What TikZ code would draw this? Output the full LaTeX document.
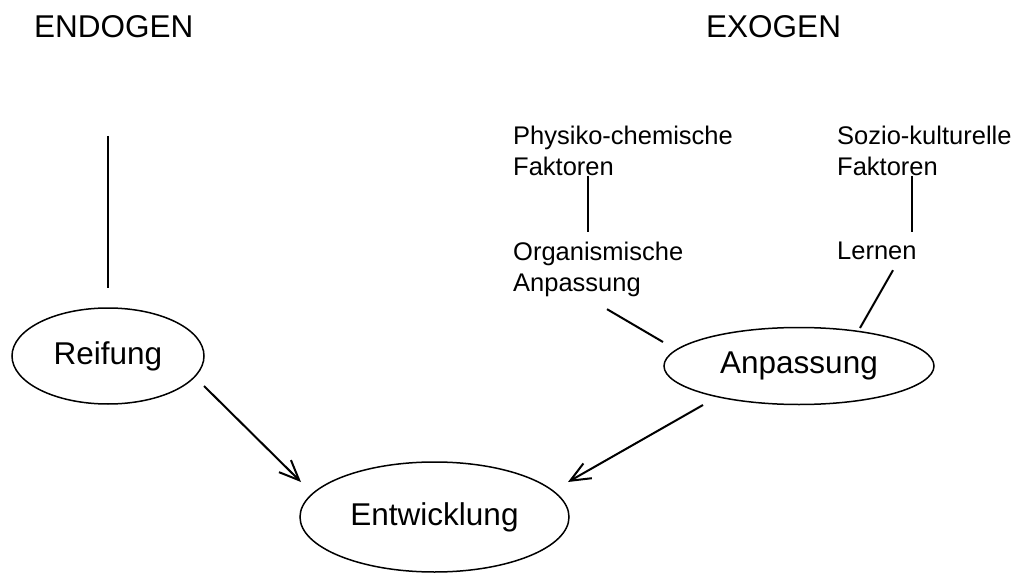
\documentclass[tikz,border=0pt]{standalone}
\usepackage{fontspec}
\setmainfont{Liberation Sans}
\usetikzlibrary{shapes.geometric,arrows.meta}

\def\grossfont{\fontsize{31.5}{36}\selectfont}
\def\kleinfont{\fontsize{25.5}{31}\selectfont}

\begin{document}
\begin{tikzpicture}[x=1pt,y=-1pt,
  ellsty/.style={draw,ellipse,line width=1.5pt,inner sep=0pt,font=\grossfont},
  titelsty/.style={anchor=base west,inner sep=0pt,font=\grossfont},
  labelsty/.style={anchor=north west,inner sep=0pt,align=left,font=\kleinfont},
  linie/.style={line width=2pt},
  pfeil/.style={line width=2pt,-{Straight Barb[length=20pt,width=17pt,line width=2pt]}}]
  \useasboundingbox (0,0) rectangle (1026,575);

  \node[titelsty] (endo) at (34,38) {ENDOGEN};
  \node[titelsty] (exo) at (706,38) {EXOGEN};

  \node[ellsty,minimum width=192pt,minimum height=96pt] (reif) at (108,356) {Reifung};
  \node[ellsty,minimum width=270pt,minimum height=77pt] (anp) at (799,366) {Anpassung};
  \node[ellsty,minimum width=269pt,minimum height=110pt] (entw) at (434.5,517) {Entwicklung};

  \node[labelsty] (phys) at (513,126) {Physiko-chemische\\Faktoren};
  \node[labelsty] (sozio) at (837,126) {Sozio-kulturelle\\Faktoren};
  \node[labelsty] (org) at (513,242) {Organismische\\Anpassung};
  \node[labelsty] (lern) at (837,242) {Lernen};

  \coordinate (endtop) at (108,136);
  \draw[linie] (endtop) -- ([yshift=19pt]reif.north);

  \draw[linie] ([xshift=75pt]phys.south west) -- ([xshift=75pt,yshift=10pt]org.north west);
  \draw[linie] ([xshift=75pt]sozio.south west) -- ([xshift=75pt,yshift=10pt]lern.north west);
  \draw[linie] ([shift={(94,12)}]org.south west) -- ([shift={(-136,-24)}]anp.center);
  \draw[linie] ([shift={(56,10)}]lern.south west) -- ([shift={(61,-38)}]anp.center);

  \draw[pfeil] ([shift={(96,30)}]reif.center) -- ([shift={(-133.5,-35)}]entw.center);
  \draw[pfeil] ([shift={(-96,39)}]anp.center) -- ([shift={(133.5,-35)}]entw.center);
\end{tikzpicture}
\end{document}
